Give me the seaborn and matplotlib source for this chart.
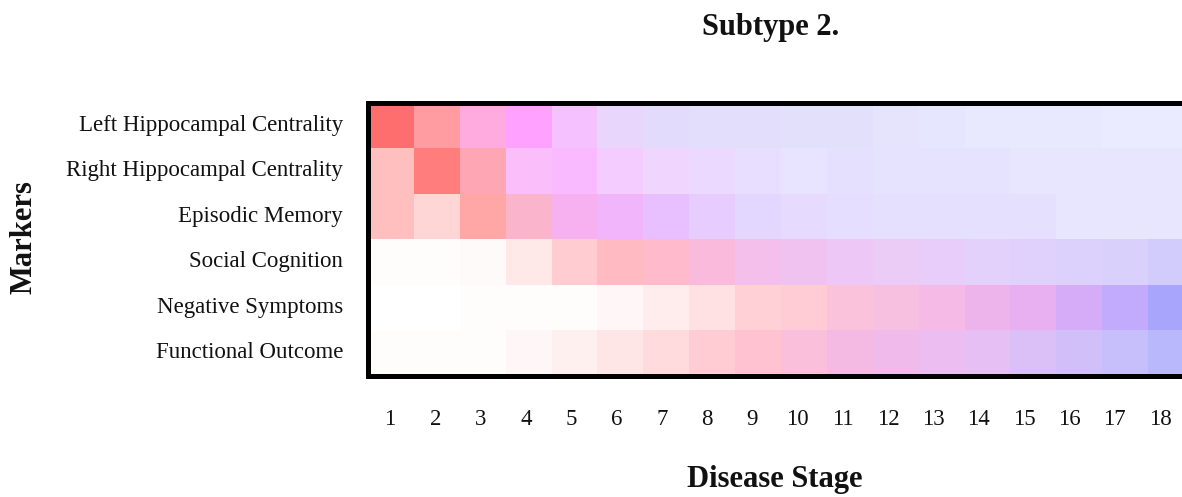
import numpy as np
import pandas as pd
import matplotlib
matplotlib.use("Agg")
import matplotlib.pyplot as plt
import seaborn as sns
from matplotlib.colors import ListedColormap

# ---------------- data ----------------
markers = ["Left Hippocampal Centrality", "Right Hippocampal Centrality",
           "Episodic Memory", "Social Cognition", "Negative Symptoms",
           "Functional Outcome"]
stages = [str(i) for i in range(1, 19)]

# probability of each marker reaching z-score level 1 (red), 2 (magenta), 3 (blue) at each stage
prob_z1 = [
    [.57, .37, .12, 0, 0, .01, .01, .01, .01, .01, .01, .01, 0, 0, 0, 0, 0, 0],
    [.25, .51, .29, .02, 0, 0, 0, 0, 0, 0, 0, 0, 0, 0, 0, 0, 0, 0],
    [.25, .16, .35, .20, .06, .02, 0, 0, 0, 0, 0, 0, 0, 0, 0, 0, 0, 0],
    [.01, .01, .02, .09, .18, .24, .20, .14, .08, .06, .04, .03, .02, .01, .01, .01, .01, .01],
    [0, 0, .01, .01, .01, .03, .07, .11, .16, .16, .14, .12, .10, .08, .06, .03, .01, .01],
    [.01, .01, .01, .03, .06, .10, .13, .17, .18, .14, .11, .08, .06, .04, .03, .02, .01, .01],
]
prob_z2 = [
    [0, .02, .21, .37, .20, .06, .02, .01, .01, 0, 0, 0, 0, 0, 0, 0, 0, 0],
    [0, 0, .06, .21, .25, .16, .10, .07, .04, .02, .02, .01, .01, .01, .01, .01, .01, .01],
    [0, 0, 0, .07, .22, .21, .16, .10, .05, .04, .03, .02, .02, .02, .02, .01, .01, .01],
    [0, 0, 0, 0, .02, .03, .07, .11, .13, .12, .11, .09, .09, .06, .05, .03, .02, .01],
    [0, 0, 0, 0, 0, 0, 0, .01, .02, .04, .08, .10, .13, .15, .16, .14, .08, 0],
    [0, 0, 0, 0, 0, 0, .01, .03, .06, .09, .12, .13, .12, .11, .08, .05, .02, 0],
]
prob_z3 = [
    [0, 0, 0, 0, .04, .09, .11, .11, .11, .11, .11, .10, .10, .09, .09, .09, .08, .08],
    [0, 0, 0, .02, .02, .04, .06, .08, .09, .09, .10, .10, .10, .10, .09, .09, .09, .09],
    [0, 0, 0, .02, .03, .06, .09, .10, .11, .10, .10, .10, .10, .10, .10, .09, .09, .09],
    [0, 0, 0, 0, 0, 0, 0, .02, .04, .06, .07, .08, .09, .11, .12, .14, .15, .18],
    [0, 0, 0, 0, 0, 0, 0, 0, 0, 0, .02, .03, .04, .07, .09, .16, .24, .34],
    [0, 0, 0, 0, 0, 0, 0, 0, 0, .02, .04, .06, .08, .10, .14, .18, .22, .27],
]

# ---------------- colour mixing (red / magenta / blue levels) ----------------
p1 = np.array(prob_z1, dtype=float)
p2 = np.array(prob_z2, dtype=float)
p3 = np.array(prob_z3, dtype=float)
R = 1 - p3
G = 1 - p1 - p2 - p3
B = 1 - p1
rgb = np.clip(np.stack([R, G, B], axis=-1), 0, 1)
n_rows, n_cols = rgb.shape[:2]
cell_cmap = ListedColormap(rgb.reshape(-1, 3))
cell_index = np.arange(n_rows * n_cols).reshape(n_rows, n_cols)
df = pd.DataFrame(cell_index, index=markers, columns=stages)

# ---------------- plot ----------------
sns.set_style("white")
plt.rcParams["font.family"] = ["Liberation Serif", "DejaVu Serif"]

W, H = 1182, 497
fig = plt.figure(figsize=(W / 100, H / 100), dpi=100)
ax_l, ax_r, ax_t, ax_b = 368, 1194, 102.5, 375.5
ax_w, ax_h = ax_r - ax_l, ax_b - ax_t
ax = fig.add_axes([ax_l / W, 1 - ax_b / H, ax_w / W, ax_h / H])

sns.heatmap(df, cmap=cell_cmap, vmin=-0.5, vmax=n_rows * n_cols - 0.5,
            cbar=False, ax=ax, linewidths=0)

for s in ax.spines.values():
    s.set_visible(True)
    s.set_color("black")
    s.set_linewidth(3.6)
    s.set_clip_on(False)

# stage labels sit slightly tighter than the cell grid, as in the reference
col_w = ax_w / n_cols
tick_pos = [(390 - ax_l + 45.3 * i) / col_w for i in range(n_cols)]
ax.set_xticks(tick_pos)
ax.set_xticklabels(stages)

ax.tick_params(axis="both", length=0, labelsize=16.5, colors="#111111")
ax.tick_params(axis="y", pad=18, rotation=0)
ax.tick_params(axis="x", pad=24, rotation=0)

ax.set_ylabel("Markers", fontsize=22, fontweight="bold", color="#111111")
ax.yaxis.label.set_va("center")
ax.yaxis.set_label_coords((24 - ax_l) / ax_w, (ax_b - 237) / ax_h)
ax.set_xlabel("Disease Stage", fontsize=22, fontweight="bold", color="#111111")
ax.xaxis.label.set_va("center")
ax.xaxis.set_label_coords((775 - ax_l) / ax_w, -(479 - ax_b) / ax_h)

fig.text(771 / W, 1 - 27 / H, "Subtype 2.", ha="center", va="center",
         fontsize=22, fontweight="bold", color="#111111")

fig.savefig("out.png", dpi=100)
